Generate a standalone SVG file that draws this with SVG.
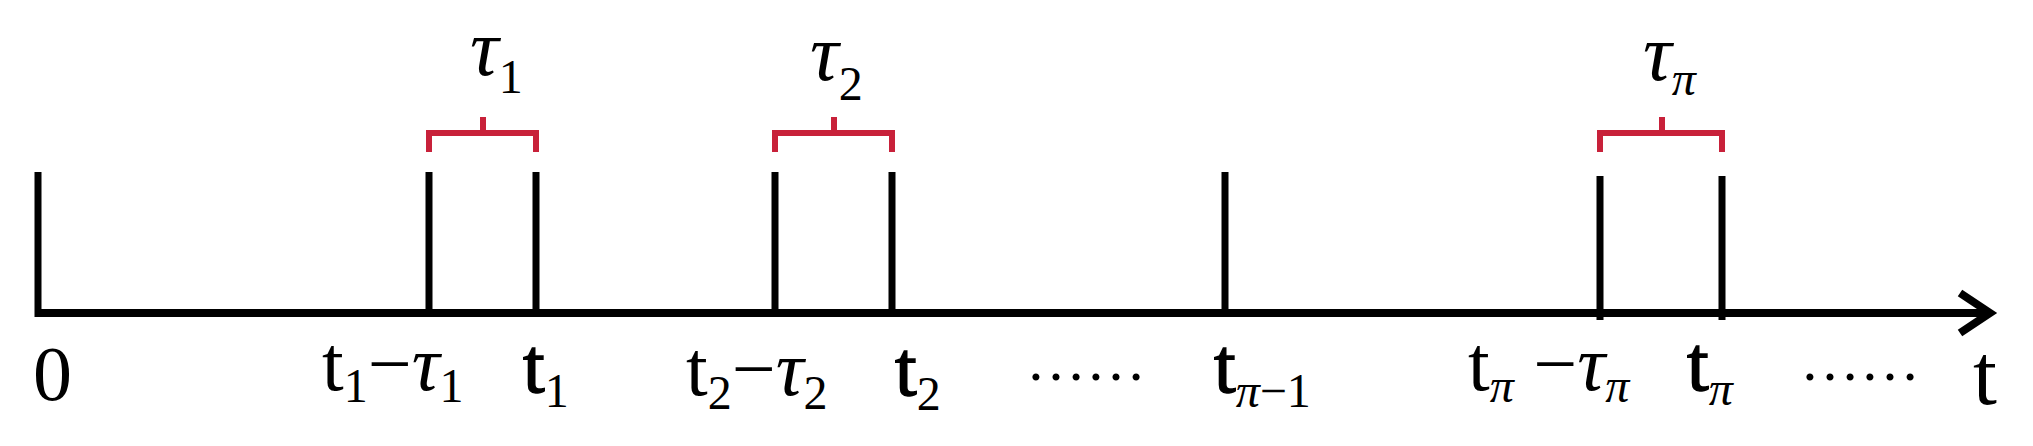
<svg xmlns="http://www.w3.org/2000/svg" width="2033" height="446" viewBox="0 0 2033 446">
<style>
.ln{stroke:#000;stroke-width:7;fill:none}
.br{stroke:#c8213a;stroke-width:6;fill:none}
text{font-family:"Liberation Serif","Times New Roman",serif;fill:#000}
.lb{font-size:78px}
.sub{font-size:48px}
.dt{font-size:60px}
.tau{font-size:80px;font-style:italic}
</style>
<g id="connectors">
<line class="ln" x1="38" y1="313" x2="1990" y2="313" style="stroke-width:8"/>
<path d="M1960,293 L1990,313 L1960,333" stroke="#000" stroke-width="8" fill="none"/>
</g>
<g id="tick0"><line class="ln" x1="38" y1="172" x2="38" y2="317"/><text class="lb" x="33" y="400">0</text></g>
<g id="tick1a"><line class="ln" x1="429" y1="172" x2="429" y2="313"/><text class="lb" x="322" y="390">t<tspan class="sub" dy="12">1</tspan><tspan dy="-12">−</tspan><tspan font-style="italic">τ</tspan><tspan class="sub" dy="12">1</tspan></text></g>
<g id="tick1b"><line class="ln" x1="536" y1="172" x2="536" y2="313"/><text class="lb" x="523" y="392" stroke="#000" stroke-width="1.5">t<tspan class="sub" stroke-width="0" dy="15">1</tspan></text></g>
<g id="tick2a"><line class="ln" x1="775" y1="172" x2="775" y2="313"/><text class="lb" x="686" y="395">t<tspan class="sub" dy="14">2</tspan><tspan dy="-14">−</tspan><tspan font-style="italic">τ</tspan><tspan class="sub" dy="14">2</tspan></text></g>
<g id="tick2b"><line class="ln" x1="892" y1="172" x2="892" y2="313"/><text class="lb" x="895" y="395" stroke="#000" stroke-width="1.5">t<tspan class="sub" stroke-width="0" dy="15">2</tspan></text></g>
<g id="dots1"><text class="dt" x="1026" y="380">……</text></g>
<g id="tickpm1"><line class="ln" x1="1225" y1="172" x2="1225" y2="313"/><text class="lb" x="1214" y="392" stroke="#000" stroke-width="1.5">t<tspan class="sub" stroke-width="0" dy="15"><tspan font-style="italic">π</tspan>−1</tspan></text></g>
<g id="tickpa"><line class="ln" x1="1600" y1="176" x2="1600" y2="320"/><text class="lb" x="1468" y="390">t<tspan class="sub" font-style="italic" dy="12">π</tspan><tspan dy="-12"> −</tspan><tspan font-style="italic">τ</tspan><tspan class="sub" font-style="italic" dy="12">π</tspan></text></g>
<g id="tickpb"><line class="ln" x1="1722" y1="176" x2="1722" y2="320"/><text class="lb" x="1687" y="390" stroke="#000" stroke-width="1.5">t<tspan class="sub" stroke-width="0" font-style="italic" dy="15">π</tspan></text></g>
<g id="dots2"><text class="dt" x="1800" y="380">……</text></g>
<g id="tlabel"><text x="1973" y="404" style="font-size:86px">t</text></g>
<g id="tau1"><path class="br" d="M429,152 V133 H536 V152 M483,133 V117"/><text class="tau" x="470" y="75">τ<tspan class="sub" font-style="normal" dy="18">1</tspan></text></g>
<g id="tau2"><path class="br" d="M775,152 V133 H892 V152 M834,133 V117"/><text class="tau" x="810" y="80">τ<tspan class="sub" font-style="normal" dy="20">2</tspan></text></g>
<g id="taupi"><path class="br" d="M1600,152 V133 H1722 V152 M1662,133 V117"/><text class="tau" x="1643" y="80">τ<tspan class="sub" dy="15">π</tspan></text></g>
</svg>
